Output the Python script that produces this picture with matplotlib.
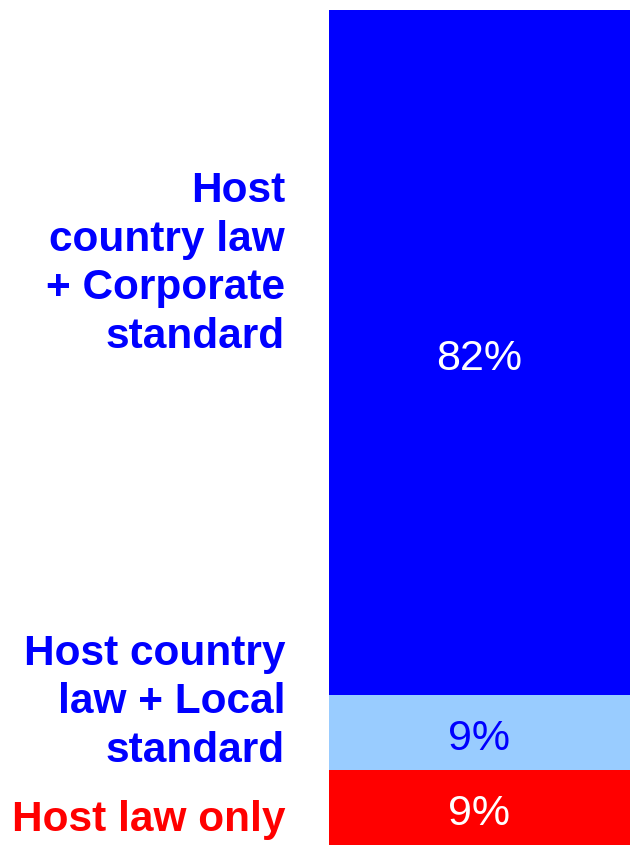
import matplotlib
matplotlib.use("Agg")
import matplotlib.pyplot as plt
import matplotlib.transforms as mtransforms

plt.rcParams["font.family"] = ["Liberation Sans", "DejaVu Sans"]

# stacked segments, bottom to top
categories = ["Host law only", "Host country\nlaw + Local\nstandard",
              "Host\ncountry law\n+ Corporate\nstandard"]
shares = [9, 9, 82]
seg_colors = ["#FF0000", "#99CCFF", "#0000FF"]
value_colors = ["white", "#0000FF", "white"]
label_colors = ["#FF0000", "#0000FF", "#0000FF"]
label_y = [3.0, 17.1, 69.6]   # vertical position of the side labels (% scale)

fig = plt.figure(figsize=(6.32, 8.48), dpi=100)
ax = fig.add_axes([329 / 632, 3 / 848, 301 / 632, 835 / 848])

bottom = 0
for share, col, vcol in zip(shares, seg_colors, value_colors):
    ax.bar(0, share, bottom=bottom, width=1.0, color=col, linewidth=0)
    ax.text(0, bottom + share / 2 - 0.8, f"{share}%", ha="center", va="center",
            color=vcol, fontsize=31)
    bottom += share

ax.set_xlim(-0.5, 0.5)
ax.set_ylim(0, 100)
ax.axis("off")

# side labels, right-aligned left of the bar
trans = mtransforms.blended_transform_factory(fig.transFigure, ax.transData)
for text, y, col in zip(categories, label_y, label_colors):
    ax.text(285 / 632, y, text, transform=trans, ha="right", va="center",
            color=col, fontsize=30.5, fontweight="bold", linespacing=1.28)

fig.savefig("out.png", dpi=100)
